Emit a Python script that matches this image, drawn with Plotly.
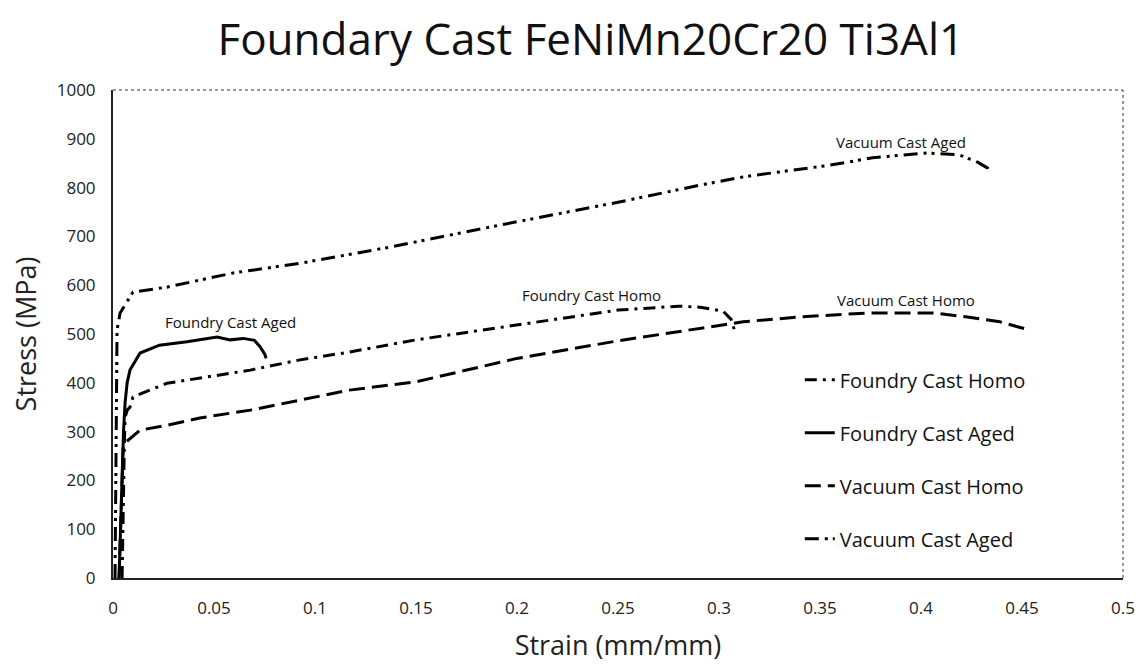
import plotly.graph_objects as go

# Foundry Cast Homo (dash-dot)
fch_strain = [0.0045, 0.0048, 0.0052, 0.0056, 0.006, 0.0072, 0.0084, 0.0099, 0.0267, 0.043, 0.068, 0.0926, 0.117,
              0.15, 0.2, 0.25, 0.28, 0.2906, 0.302, 0.306, 0.3075]
fch_stress = [0, 100, 200, 270, 330, 345, 350, 371, 399, 410, 426, 447, 463,
              488, 518, 549, 557, 555, 547, 530, 510]

# Foundry Cast Aged (solid)
fca_strain = [0.003, 0.0037, 0.0045, 0.0052, 0.006, 0.007, 0.0084, 0.0134, 0.023, 0.0366, 0.0515, 0.058,
              0.0644, 0.070, 0.0728, 0.0752, 0.0758]
fca_stress = [0, 100, 200, 300, 360, 400, 426, 461, 477, 484, 494, 488,
              491, 487, 474, 458, 450]

# Vacuum Cast Homo (long dash)
vch_strain = [0.003, 0.0035, 0.004, 0.0045, 0.005, 0.006, 0.0134, 0.027, 0.043, 0.068, 0.0926, 0.117, 0.15,
              0.2, 0.25, 0.2955, 0.312, 0.34, 0.373, 0.406, 0.423, 0.439, 0.452]
vch_stress = [0, 80, 160, 230, 265, 277, 303, 313, 328, 344, 365, 385, 402,
              450, 486, 514, 525, 535, 543, 543, 535, 525, 510]

# Vacuum Cast Aged (dash-dot-dot)
vca_strain = [0.001, 0.0012, 0.0015, 0.002, 0.0035, 0.0099, 0.0267, 0.0594, 0.0926, 0.137, 0.2, 0.25,
              0.2906, 0.312, 0.355, 0.376, 0.403, 0.419, 0.428, 0.433, 0.4335]
vca_stress = [0, 150, 350, 508, 543, 586, 596, 625, 645, 678, 730, 770,
              805, 822, 846, 861, 871, 867, 852, 840, 830]

x_ticks = [0, 0.05, 0.1, 0.15, 0.2, 0.25, 0.3, 0.35, 0.4, 0.45, 0.5]
x_tick_labels = ["0", "0.05", "0.1", "0.15", "0.2", "0.25", "0.3", "0.35", "0.4", "0.45", "0.5"]
y_ticks = [0, 100, 200, 300, 400, 500, 600, 700, 800, 900, 1000]

FONT = "Open Sans, sans-serif"
fig = go.Figure()
series = [
    ("Foundry Cast Homo", fch_strain, fch_stress, "12px,6px,3px,6px"),
    ("Foundry Cast Aged", fca_strain, fca_stress, "solid"),
    ("Vacuum Cast Homo", vch_strain, vch_stress, "16px,7px"),
    ("Vacuum Cast Aged", vca_strain, vca_stress, "14px,6px,3px,5px,3px,6px"),
]
for name, xs, ys, dash in series:
    fig.add_trace(go.Scatter(x=xs, y=ys, mode="lines", name=name, legendgroup=name,
                             line=dict(color="black", width=3, dash=dash)))

annots = [
    ("Vacuum Cast Aged", 0.39, 893),
    ("Foundry Cast Homo", 0.237, 580),
    ("Vacuum Cast Homo", 0.3926, 570),
    ("Foundry Cast Aged", 0.058, 524),
]
for txt, ax, ay in annots:
    fig.add_annotation(x=ax, y=ay, text=txt, showarrow=False,
                       font=dict(family=FONT, size=15, color="#111"))

# dashed top/right border
fig.add_shape(type="line", xref="paper", yref="paper", x0=0, x1=1, y0=1, y1=1,
              line=dict(color="#333", width=1, dash="dot"))
fig.add_shape(type="line", xref="paper", yref="paper", x0=1, x1=1, y0=0, y1=1,
              line=dict(color="#333", width=1, dash="dot"))

fig.update_layout(
    width=1145, height=665,
    paper_bgcolor="white", plot_bgcolor="white",
    margin=dict(l=113, r=22, t=90, b=87),
    title=dict(text="Foundary Cast FeNiMn20Cr20 Ti3Al1", x=0.516, xanchor="center",
               y=0.94, yanchor="middle",
               font=dict(family=FONT, size=44, color="#111")),
    font=dict(family=FONT, color="#222"),
    showlegend=True,
    legend=dict(x=0.68, y=0.446, xanchor="left", yanchor="top",
                bgcolor="rgba(0,0,0,0)", tracegroupgap=24,
                font=dict(family=FONT, size=20, color="#111")),
    xaxis=dict(range=[0, 0.5], tickvals=x_ticks, ticktext=x_tick_labels, automargin=False,
               showgrid=False, zeroline=False, showline=True, linecolor="#222", linewidth=2,
               ticks="", ticklabelstandoff=14, tickfont=dict(size=17, color="#222"),
               title=dict(text="Strain (mm/mm)", font=dict(size=27, color="#222"), standoff=18)),
    yaxis=dict(range=[0, 1000], tickvals=y_ticks, automargin=False,
               showgrid=False, zeroline=False, showline=True, linecolor="#222", linewidth=2,
               ticks="", ticklabelstandoff=12, tickfont=dict(size=17, color="#222"),
               title=dict(text="Stress (MPa)", font=dict(size=27, color="#222"), standoff=12)),
)

fig.write_html("out.html")
